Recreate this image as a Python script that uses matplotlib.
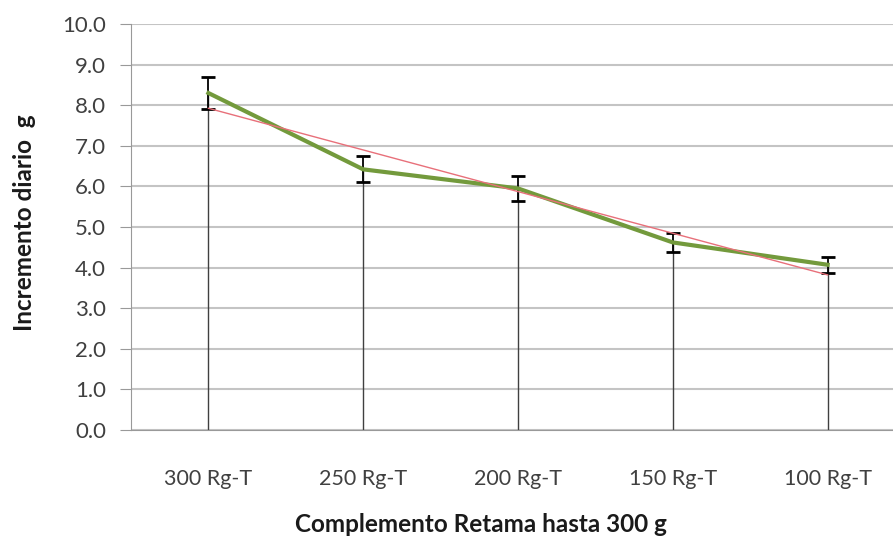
import numpy as np
import matplotlib
matplotlib.use('Agg')
import matplotlib.pyplot as plt

plt.rcParams['font.family'] = ['Lato', 'DejaVu Sans']

# daily gain per supplement level
categories = ['300 Rg-T', '250 Rg-T', '200 Rg-T', '150 Rg-T', '100 Rg-T']
incremento = [8.30, 6.42, 5.95, 4.62, 4.07]
error = [0.40, 0.32, 0.30, 0.24, 0.20]

x = np.arange(len(categories))
slope, intercept = np.polyfit(x, incremento, 1)
trend = slope * x + intercept

fig = plt.figure(figsize=(8.93, 5.36), dpi=100)
ax = fig.add_axes([131 / 893, 106 / 536, 774 / 893, 406 / 536])

ax.set_ylim(0, 10)
ax.set_xlim(-0.5, len(categories) - 0.5)
ax.set_yticks(np.arange(0, 10.5, 1))
ax.yaxis.set_major_formatter(matplotlib.ticker.FormatStrFormatter('%.1f'))
ax.grid(axis='y', color='#c4c4c4', linewidth=1.5)
ax.set_axisbelow(True)

# drop lines from each point down to the axis
ax.vlines(x, 0, incremento, color='#404040', linewidth=1.0, zorder=2)

ax.errorbar(x, incremento, yerr=error, fmt='none', ecolor='black',
            elinewidth=1.3, capsize=5, capthick=2, zorder=3)
ax.plot(x, incremento, color='#739a3c', linewidth=3, zorder=4)
ax.plot(x, trend, color='#e8707a', linewidth=1.0, zorder=5)

ax.set_xticks(x)
ax.set_xticklabels(categories)
ax.tick_params(axis='x', length=0, pad=28, labelsize=15.5, labelcolor='#404040')
ax.tick_params(axis='y', length=8, color='#999999', pad=10, labelsize=16,
               labelcolor='#404040')

for side in ['top', 'right']:
    ax.spines[side].set_visible(False)
for side in ['left', 'bottom']:
    ax.spines[side].set_color('#999999')

fig.text(481 / 893, 1 - 525 / 536, 'Complemento Retama hasta 300 g',
         fontsize=17.5, fontweight='bold', color='#1a1a1a', ha='center', va='center')
fig.text(25 / 893, 1 - 223 / 536, 'Incremento diario  g', rotation=90,
         fontsize=17.5, fontweight='bold', color='#1a1a1a', ha='center', va='center')

fig.savefig('out.png', dpi=100)
